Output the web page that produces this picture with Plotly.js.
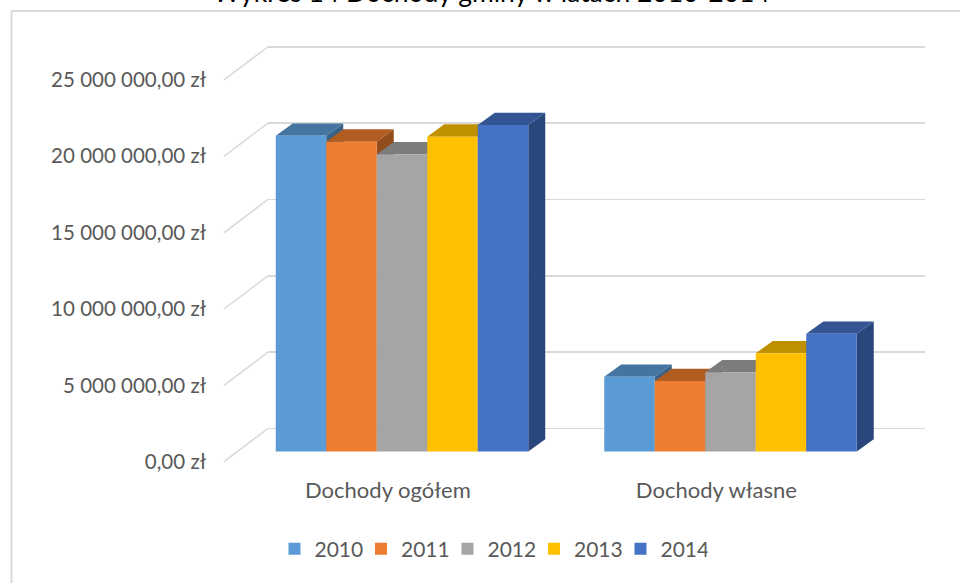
<!DOCTYPE html>
<html>
<head>
<meta charset="utf-8">
<script src="https://cdn.plot.ly/plotly-3.0.1.min.js"></script>
<style>html,body{margin:0;padding:0;background:#fff}#chart{width:960px;height:583px}</style>
</head>
<body>
<div id="chart"></div>
<script>
// ---- data ----
const categories = ["Dochody ogółem", "Dochody własne"];
const years = ["2010", "2011", "2012", "2013", "2014"];
const values2010 = [20680000, 4900000];
const values2011 = [20290000, 4620000];
const values2012 = [19460000, 5190000];
const values2013 = [20620000, 6430000];
const values2014 = [21380000, 7710000];
const tickValues = [0, 5000000, 10000000, 15000000, 20000000, 25000000];
const tickLabels = ["0,00 zł", "5 000 000,00 zł", "10 000 000,00 zł", "15 000 000,00 zł", "20 000 000,00 zł", "25 000 000,00 zł"];
const chartTitle = "Wykres 14 Dochody gminy w latach 2010-2014";

// ---- style / layout constants ----
const series = [values2010, values2011, values2012, values2013, values2014];
const frontColors = ["#5B9BD5", "#ED7D31", "#A5A5A5", "#FFC000", "#4472C4"];
const topColors   = ["#44749F", "#B15D22", "#7C7C7C", "#BF9000", "#335594"];
const sideColors  = ["#3A6287", "#934C1B", "#676767", "#9F7800", "#2A477B"];
const W = 960, H = 583;
const FONT = "Lato, 'Open Sans', sans-serif";
const TXT = "#595959";
const k = 15.27;            // px per 1 000 000
const T = 40, B = 475;      // plot area top/bottom in px
const Zbar = 451.5, Zback = 428.5, Zfront = 461.7;
const X0 = 268, X1 = 925;   // plot area left/right px
const C0 = 402, C1 = 730.5; // group centres px
const pxU = C1 - C0;
const bargap = 1 - 252.5 / pxU;
const depthPx = [17, 12.3];

function yr(Z) { return [-(B - Z) / k * 1e6, (Z - T) / k * 1e6]; }
const xRange = [(X0 - C0) / pxU, (X1 - C0) / pxU];
const xIdx = categories.map((c, i) => i);

const traces = series.map((vals, j) => ({
  type: "bar", name: years[j], x: xIdx, y: vals,
  marker: { color: frontColors[j], line: { width: 0 } },
  hoverinfo: "skip", xaxis: "x", yaxis: "y"
}));

// 3D faces computed from data
const nS = series.length;
const w = (1 - bargap) / nS;
const dxu = depthPx[0] / pxU, dyu = depthPx[1] / k * 1e6;
const sides = [], tops = [];
series.forEach((vals, j) => {
  vals.forEach((v, i) => {
    const x0 = i - (1 - bargap) / 2 + j * w, x1 = x0 + w;
    sides.push({ type: "path", xref: "x", yref: "y", layer: "between",
      path: `M${x1},0 L${x1 + dxu},${dyu} L${x1 + dxu},${v + dyu} L${x1},${v} Z`,
      fillcolor: sideColors[j], line: { width: 0 } });
    tops.push({ type: "path", xref: "x", yref: "y", layer: "between",
      path: `M${x0},${v} L${x1},${v} L${x1 + dxu},${v + dyu} L${x0 + dxu},${v + dyu} Z`,
      fillcolor: topColors[j], line: { width: 0 } });
  });
});
// side-wall diagonal lines
const offFront = (Zfront - Zbar) / k * 1e6, offBack = (Zbar - Zback) / k * 1e6;
const diag = tickValues.map(v => ({ type: "line", xref: "paper", yref: "y", layer: "below",
  x0: 224 / W, x1: X0 / W, y0: v - offFront, y1: v + offBack,
  line: { color: "#d9d9d9", width: 1.5 } }));
const border = [
  { type: "line", xref: "paper", yref: "paper", x0: 11.5 / W, x1: 11.5 / W, y0: 0, y1: 1 - 11 / H, line: { color: "#d9d9d9", width: 2 } },
  { type: "line", xref: "paper", yref: "paper", x0: 11.5 / W, x1: 1, y0: 1 - 11 / H, y1: 1 - 11 / H, line: { color: "#d9d9d9", width: 2 } }
];

const yDomain = [(H - B) / H, (H - T) / H];
const layout = {
  width: W, height: H, margin: { l: 0, r: 0, t: 0, b: 0 },
  paper_bgcolor: "#fff", plot_bgcolor: "rgba(0,0,0,0)",
  font: { family: FONT, color: TXT, size: 19 },
  barmode: "group", bargap: bargap, bargroupgap: 0,
  showlegend: true,
  legend: { orientation: "h", x: 491 / W, xanchor: "center", y: (H - 549) / H, yanchor: "middle",
    font: { size: 21, color: TXT, family: FONT }, traceorder: "normal",
    entrywidth: 41.5, entrywidthmode: "pixels" },
  xaxis: { domain: [X0 / W, X1 / W], range: xRange, showgrid: false, zeroline: false, showline: false,
    tickvals: xIdx.map(i => i - 0.043), ticktext: categories, ticks: "",
    tickfont: { size: 22, color: TXT } },
  yaxis: { domain: yDomain, range: yr(Zbar), showgrid: false, zeroline: false, showticklabels: false, ticks: "" },
  yaxis2: { domain: yDomain, overlaying: "y", range: yr(Zback), showgrid: true, gridcolor: "#d9d9d9", gridwidth: 1.5,
    tickvals: tickValues, zeroline: false, showticklabels: false, ticks: "" },
  yaxis3: { domain: yDomain, overlaying: "y", anchor: "free", position: 206 / W, side: "left", range: yr(Zfront),
    showgrid: false, zeroline: false, showline: false, tickvals: tickValues, ticktext: tickLabels, ticks: "",
    tickfont: { size: 20.5, color: TXT } },
  shapes: [...diag, ...sides, ...tops, ...border],
  annotations: [{ text: chartTitle, xref: "paper", yref: "paper", x: 492 / W, y: 1 - 10 / H, xanchor: "center", yanchor: "bottom",
    showarrow: false, font: { size: 26.5, color: "#000", family: FONT } }]
};
// dummy traces so yaxis2 / yaxis3 are drawn
traces.push({ type: "scatter", x: [null], y: [null], yaxis: "y2", showlegend: false, hoverinfo: "skip" });
traces.push({ type: "scatter", x: [null], y: [null], yaxis: "y3", showlegend: false, hoverinfo: "skip" });
Plotly.newPlot("chart", traces, layout, { displayModeBar: false, staticPlot: true });
</script>
</body>
</html>
